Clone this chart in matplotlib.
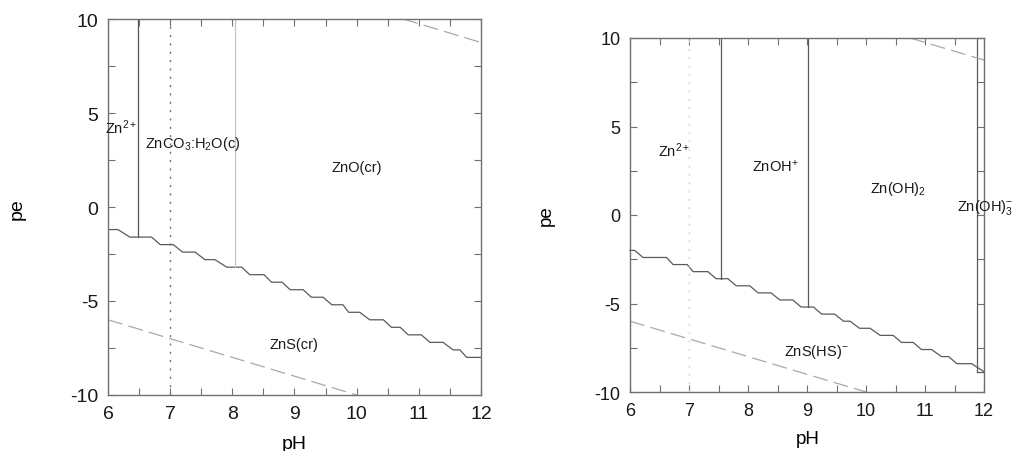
import numpy as np
import matplotlib
matplotlib.use('Agg')
import matplotlib.pyplot as plt

plt.rcParams['font.family'] = ['Liberation Sans', 'DejaVu Sans']
plt.rcParams['mathtext.fontset'] = 'custom'
plt.rcParams['mathtext.rm'] = 'Liberation Sans'
plt.rcParams['mathtext.it'] = 'Liberation Sans'
plt.rcParams['mathtext.default'] = 'regular'
plt.rcParams['axes.unicode_minus'] = False

# left diagram: ZnCO3 / ZnO / ZnS system
left_flat_start = [6.00, 6.35, 6.84, 7.20, 7.56, 7.91, 8.28, 8.63, 8.93, 9.27, 9.60, 9.87, 10.21, 10.56, 10.83, 11.18, 11.55, 11.77]
left_flat_end = [6.16, 6.70, 7.05, 7.40, 7.72, 8.15, 8.51, 8.80, 9.14, 9.46, 9.78, 10.05, 10.43, 10.70, 11.04, 11.39, 11.66, 12.00]
left_flat_pe = [-1.2, -1.6, -2.0, -2.4, -2.8, -3.2, -3.6, -4.0, -4.4, -4.8, -5.2, -5.6, -6.0, -6.4, -6.8, -7.2, -7.6, -8.0]
left_vert_ph = [6.49, 8.04]
left_vert_bottom = [-1.6, -3.2]
left_vert_color = ['#555555', '#c4c4c4']
left_labels = ['Zn$^{2+}$', 'ZnCO$_3$:H$_2$O(c)', 'ZnO(cr)', 'ZnS(cr)']
left_label_ph = [5.95, 6.60, 9.60, 8.59]
left_label_pe = [3.95, 3.17, 1.93, -7.5]

# right diagram: dissolved Zn species
right_flat_start = [6.00, 6.22, 6.73, 7.07, 7.46, 7.80, 8.17, 8.54, 8.90, 9.25, 9.62, 9.89, 10.24, 10.60, 10.94, 11.28, 11.54]
right_flat_end = [6.08, 6.62, 6.97, 7.32, 7.66, 8.03, 8.39, 8.76, 9.11, 9.47, 9.73, 10.07, 10.46, 10.80, 11.11, 11.40, 11.79]
right_flat_pe = [-2.0, -2.4, -2.8, -3.2, -3.6, -4.0, -4.4, -4.8, -5.2, -5.6, -6.0, -6.4, -6.8, -7.2, -7.6, -8.0, -8.4]
right_tail_ph = 12.0
right_tail_pe = -8.85
right_vert_ph = [7.55, 9.01, 11.88]
right_vert_bottom = [-3.6, -5.2, -8.85]
right_labels = ['Zn$^{2+}$', 'ZnOH$^{+}$', 'Zn(OH)$_2$', 'Zn(OH)$_3^{-}$', 'ZnS(HS)$^{-}$']
right_label_ph = [6.48, 8.06, 10.07, 11.55, 8.61]
right_label_pe = [3.32, 2.50, 1.28, 0.30, -7.91]

# water stability limits
o2_ph = [10.75, 12.0]
o2_pe = [10.0, 8.75]
h2_ph = [6.0, 10.0]
h2_pe = [-6.0, -10.0]

LINE = '#5a5a5a'
SPINE = '#707070'


def staircase(starts, ends, levels):
    xs, ys = [], []
    for s, e, l in zip(starts, ends, levels):
        xs += [s, e]
        ys += [l, l]
    return xs, ys


def style_axes(ax, fs):
    ax.set_xlim(6, 12)
    ax.set_ylim(-10, 10)
    ax.set_xticks([6, 7, 8, 9, 10, 11, 12])
    ax.set_xticks(np.arange(6.5, 12, 1.0), minor=True)
    ax.set_yticks([-10, -5, 0, 5, 10])
    ax.set_yticks([-7.5, -2.5, 2.5, 7.5], minor=True)
    ax.tick_params(which='both', direction='in', top=True, right=True,
                   length=5, width=0.8, color=SPINE, labelsize=fs, pad=7,
                   labelcolor='#1a1a1a')
    for sp in ax.spines.values():
        sp.set_color(SPINE)
        sp.set_linewidth(1.0)


fig = plt.figure(figsize=(10.16, 4.52), dpi=100)

# ---- left
ax1 = fig.add_axes([108 / 1016, 1 - 396 / 452, 373 / 1016, 376 / 452])
style_axes(ax1, 14)
x, y = staircase(left_flat_start, left_flat_end, left_flat_pe)
ax1.plot(x, y, color=LINE, lw=0.9)
for ph, bot, c in zip(left_vert_ph, left_vert_bottom, left_vert_color):
    ax1.plot([ph, ph], [bot, 10], color=c, lw=0.9)
ax1.axvline(7.0, color='#707070', lw=1.0, dashes=(1.5, 4.5))
ax1.plot(o2_ph, o2_pe, color='#a8a8a8', lw=0.9, dashes=(12, 5))
ax1.plot(h2_ph, h2_pe, color='#a8a8a8', lw=0.9, dashes=(12, 5))
for t, px, py in zip(left_labels, left_label_ph, left_label_pe):
    ax1.text(px, py, t, fontsize=10.5, ha='left', va='baseline', color='#1a1a1a', clip_on=False)
fig.text(294 / 1016, 1 - 436 / 452, 'pH', fontsize=14, ha='center', va='top')
fig.text(17 / 1016, 1 - 209 / 452, 'pe', fontsize=14, ha='center', va='center', rotation=90)

# ---- right
ax2 = fig.add_axes([630 / 1016, 1 - 393 / 452, 354 / 1016, 354 / 452])
style_axes(ax2, 13)
x, y = staircase(right_flat_start, right_flat_end, right_flat_pe)
x.append(right_tail_ph)
y.append(right_tail_pe)
ax2.plot(x, y, color=LINE, lw=0.9, clip_on=False)
for ph, bot in zip(right_vert_ph, right_vert_bottom):
    ax2.plot([ph, ph], [bot, 10], color=LINE, lw=0.9)
ax2.plot([right_vert_ph[-1], right_tail_ph], [right_tail_pe, right_tail_pe], color=LINE, lw=0.9)
ax2.axvline(7.0, color='#d4d4d4', lw=1.0, dashes=(1.5, 4.5))
ax2.plot(o2_ph, o2_pe, color='#a8a8a8', lw=0.9, dashes=(12, 5))
ax2.plot(h2_ph, h2_pe, color='#a8a8a8', lw=0.9, dashes=(12, 5))
for t, px, py in zip(right_labels, right_label_ph, right_label_pe):
    ax2.text(px, py, t, fontsize=10.5, ha='left', va='baseline', color='#1a1a1a', clip_on=False)
fig.text(808 / 1016, 1 - 431 / 452, 'pH', fontsize=13.5, ha='center', va='top')
fig.text(546 / 1016, 1 - 216 / 452, 'pe', fontsize=13.5, ha='center', va='center', rotation=90)

fig.savefig('out.png', dpi=100)
